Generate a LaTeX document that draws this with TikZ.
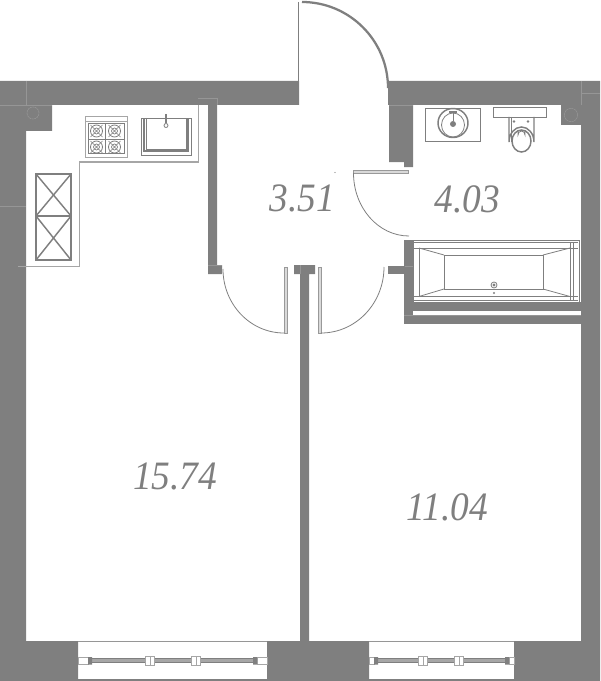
\documentclass[tikz,border=0pt]{standalone}
\usepackage{fontspec}
\setmainfont{Liberation Serif}
\definecolor{wallgray}{HTML}{7F7F7F}
\definecolor{seamgray}{HTML}{A6A6A6}
\definecolor{jointgray}{HTML}{969696}
\definecolor{leafgray}{HTML}{D9D9D9}
\newcommand{\areatext}[1]{\scalebox{1}[1.08]{#1}}
\begin{document}
\begin{tikzpicture}[x=0.75pt,y=-0.75pt,
        line join=miter
    ]
    \tikzstyle{wall}=[fill=wallgray,draw=none]
    \tikzstyle{seam}=[draw=seamgray,line width=0.45pt]
    \tikzstyle{joint}=[draw=jointgray,line width=0.4pt]
    \tikzstyle{fitting}=[draw=wallgray,line width=0.6pt]
    \tikzstyle{heavy}=[draw=wallgray,line width=1.1pt]
    \tikzstyle{swing}=[draw=wallgray,line width=0.6pt]
    \tikzstyle{leaf}=[draw=wallgray!80,fill=leafgray,line width=0.45pt]
    \tikzstyle{shaft}=[circle,draw=jointgray,line width=0.45pt,dash pattern=on 1.5pt off 0.5pt,inner sep=0pt]
    \tikzstyle{area}=[text=wallgray,font=\fontsize{28pt}{30pt}\selectfont\itshape]
\useasboundingbox (0,0) rectangle (600,681);

% walls
\path[wall] (0,81) -- (299,81) -- (299,105) -- (219,105) -- (217,105) -- (217,265) -- (222,265) -- (222,274)
    -- (208,274) -- (208,105) -- (52,105) -- (52,131) -- (26,131) -- (26,641) -- (78,641) -- (78,681) -- (0,681) -- cycle;
\path[wall] (388,81) -- (600,81) -- (600,681) -- (514,681) -- (514,641) -- (581,641) -- (581,125) -- (561,125)
    -- (561,105) -- (413,105) -- (413,167) -- (404,167) -- (404,162) -- (389,162) -- (389,105) -- (388,105) -- cycle;
\path[wall] (267,641) rectangle (300,681);
\path[wall] (294,265) -- (315,265) -- (315,274) -- (309,274) -- (309,641) -- (369,641) -- (369,681) -- (300,681) -- (300,274) -- (294,274) -- cycle;
\path[wall] (388,266) rectangle (404,274);
\path[wall] (404,240) rectangle (413,324);
\path[wall] (404,302) rectangle (581,311);
\path[wall] (404,315) rectangle (581,324);
\path[wall] (78,679) rectangle (267,681);
\path[wall] (369,679) rectangle (514,681);

% joints in the walls
\draw[joint] (26,81) -- (26,105) (0,105) -- (52,105) (0,206) -- (26,206) (581,81) -- (581,105) (581,93) -- (600,93);
\draw[joint] (198,98) -- (217,98) -- (217,105);
\draw[joint] (389,105) -- (413,105) (208,265) -- (222,265) (300,265) -- (300,274) (404,266) -- (413,266);
\draw[joint] (404,315) -- (581,315) (78,641.5) -- (267,641.5) (369,641.5) -- (514,641.5);
\node[shaft,minimum size=9pt] (shaftA) at (33,113) {};
\node[shaft,minimum size=10pt] (shaftB) at (571,115) {};

% doors
\draw[draw=wallgray,line width=0.9pt] (298.5,2) -- (298.5,81);
\draw[draw=wallgray,line width=1.7pt] (302,2) arc[start angle=-90,end angle=0,x radius=86,y radius=86];
\draw[leaf] (353,170) rectangle (408.5,173);
\draw[swing] (353.5,173) arc[start angle=180,end angle=90,x radius=55.5,y radius=63];
\draw[leaf] (284,267) rectangle (287,333);
\draw[swing] (223,269) arc[start angle=180,end angle=90,x radius=61,y radius=64];
\draw[leaf] (318,267) rectangle (321.5,333);
\draw[swing] (321,333) arc[start angle=90,end angle=0,x radius=63,y radius=66];
\node[circle,fill=wallgray,inner sep=0pt,minimum size=1pt] (speck) at (335,172.5) {};

% kitchen counter
\draw[draw=seamgray,line width=0.75pt] (18,266) -- (79,266) -- (79,162) -- (198.5,162) -- (198.5,105);

% stove
\draw[seam] (85,116) rectangle (127,157) (85,121) -- (127,121);
\draw[fitting] (88,123) rectangle (124,153);
\foreach \bx in {96.5,114.5}
    \foreach \by in {131,147}{
        \draw[fitting] (\bx,\by) circle (6);
        \draw[fitting,line width=0.5pt] (\bx,\by) circle (3);
        \draw[fitting,line width=0.45pt] (\bx-6,\by-6) -- (\bx+6,\by+6) (\bx-6,\by+6) -- (\bx+6,\by-6);
    }
\draw[fitting,line width=0.45pt] (105.5,123) -- (105.5,153) (88,139) -- (124,139);

% kitchen sink
\draw[heavy] (144,119) -- (144,151) -- (188,151) -- (188,119);
\draw[fitting] (141,118) rectangle (191,155);
\draw[fitting] (146,118) -- (146,149) -- (186,149) -- (186,118);
\draw[fitting] (166,125.5) circle (2);
\draw[heavy] (166,114) -- (166,123.5);

% fridge
\foreach \fy/\fh in {174/42,216/44}{
    \draw[heavy] (36,\fy) rectangle (71,\fy+\fh);
    \draw[heavy] (36,\fy) -- (71,\fy+\fh) (36,\fy+\fh) -- (71,\fy);
}

% basin
\draw[fitting] (425,108) rectangle (480,141);
\draw[heavy] (453,123) ellipse (15 and 14.5);
\draw[fitting] (453,125) ellipse (11.5 and 12);
\node[circle,fill=wallgray,inner sep=0pt,minimum size=4.5pt] (drainA) at (453,124) {};
\draw[fitting] (453,112) -- (453,121);
\draw[heavy] (449,112) -- (457,112);

% toilet
\draw[fitting] (493,107) rectangle (546,117);
\draw[heavy] (509,117) -- (509,142) arc[start angle=180,end angle=0,x radius=12.5,y radius=-15] -- (534,117);
\draw[fitting] (511.5,117) -- (511.5,142);
\draw[heavy] (521.5,141) ellipse (9.5 and 11);
\draw[fitting] (518,130) -- (518,135) arc[start angle=180,end angle=0,x radius=3.5,y radius=-4] -- (525,130);
\node[circle,fill=wallgray,inner sep=0pt,minimum size=2.2pt] (boltA) at (514,121.5) {};
\node[circle,fill=wallgray,inner sep=0pt,minimum size=2.2pt] (boltB) at (528,121.5) {};

% bath
\path[fill=white] (413,240) rectangle (579,302);
\draw[fitting] (404,240) rectangle (579,302);
\draw[fitting] (413,242) -- (578,242) (413,248) -- (578,248) (413,296.5) -- (578,296.5) (413,300) -- (578,300);
\draw[fitting] (419,248) -- (419,296.5) (570,242) -- (570,300) (573.5,242) -- (573.5,300) (413,240) -- (413,302);
\draw[fitting] (444,255) rectangle (543,289);
\draw[fitting] (419,248) -- (444,255) (570,248) -- (543,255) (419,296.5) -- (444,289) (570,296.5) -- (543,289);
\draw[fitting] (494,285) circle (3);
\node[circle,fill=wallgray,inner sep=0pt,minimum size=2.5pt] (drainB) at (494,285) {};
\node[circle,fill=wallgray,inner sep=0pt,minimum size=1.8pt] (drainC) at (494,293) {};

% windows
\foreach \xa/\xb/\en/\ma/\mb in {78/267/10/150/196,369/514/5/423/459}{
    \draw[fitting] (\xa+\en+4,658.5) -- (\xb-\en-4,658.5) (\xa+\en+4,662.5) -- (\xb-\en-4,662.5);
    \path[fill=seamgray] (\xa+\en+4,659) rectangle (\xb-\en-4,662);
    \draw[seam,fill=white] (\xa,657) rectangle (\xa+\en,664.5) (\xb-\en,657) rectangle (\xb,664.5);
    \path[fill=wallgray] (\xa+\en,657) rectangle (\xa+\en+4,664.5) (\xb-\en-4,657) rectangle (\xb-\en,664.5);
    \foreach \mx in {\ma,\mb}{
        \draw[seam,fill=white] (\mx-4.5,656.5) rectangle (\mx+4.5,665);
        \draw[seam] (\mx,656.5) -- (\mx,665);
    }
}

% areas
\node[area] (kitchen) at (175,476.5) {\areatext{15.74}};
\node[area] (bedroom) at (447.5,507) {\areatext{11.04}};
\node[area] (hall) at (302,198) {\areatext{3.51}};
\node[area] (bathroom) at (467,199.5) {\areatext{4.03}};
\end{tikzpicture}
\end{document}
